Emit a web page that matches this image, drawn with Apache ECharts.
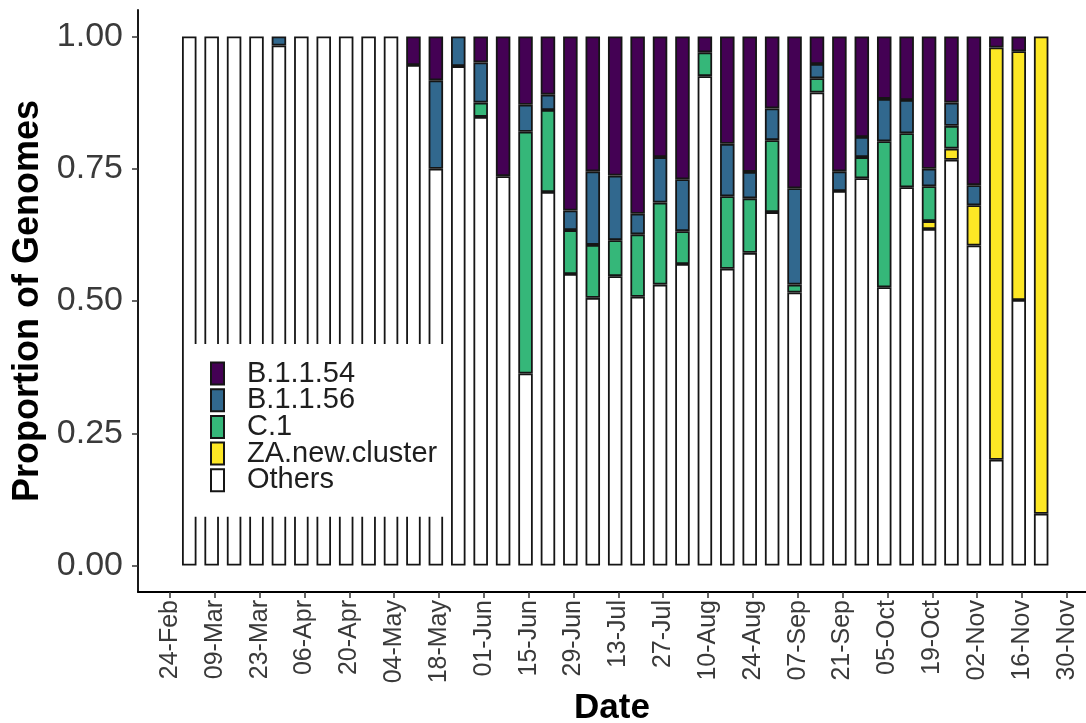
<!DOCTYPE html>
<html>
<head>
<meta charset="utf-8">
<script src="https://cdn.jsdelivr.net/npm/echarts@6/dist/echarts.min.js"></script>
<style>
html,body{margin:0;padding:0;background:#fff;}
#chart{width:1086px;height:723px;}
</style>
</head>
<body>
<div id="chart"></div>
<script>
// Weekly sample dates (bar positions)
const weekDates = ['2020-03-01','2020-03-08','2020-03-15','2020-03-22','2020-03-29',
  '2020-04-05','2020-04-12','2020-04-19','2020-04-26',
  '2020-05-03','2020-05-10','2020-05-17','2020-05-24','2020-05-31',
  '2020-06-07','2020-06-14','2020-06-21','2020-06-28',
  '2020-07-05','2020-07-12','2020-07-19','2020-07-26',
  '2020-08-02','2020-08-09','2020-08-16','2020-08-23','2020-08-30',
  '2020-09-06','2020-09-13','2020-09-20','2020-09-27',
  '2020-10-04','2020-10-11','2020-10-18','2020-10-25',
  '2020-11-01','2020-11-08','2020-11-15','2020-11-22'];

// Tick dates and labels
const tickDates = ['2020-02-24','2020-03-09','2020-03-23','2020-04-06','2020-04-20','2020-05-04',
  '2020-05-18','2020-06-01','2020-06-15','2020-06-29','2020-07-13','2020-07-27','2020-08-10',
  '2020-08-24','2020-09-07','2020-09-21','2020-10-05','2020-10-19','2020-11-02','2020-11-16','2020-11-30'];
const tickLabels = ['24-Feb','09-Mar','23-Mar','06-Apr','20-Apr','04-May','18-May','01-Jun','15-Jun',
  '29-Jun','13-Jul','27-Jul','10-Aug','24-Aug','07-Sep','21-Sep','05-Oct','19-Oct','02-Nov','16-Nov','30-Nov'];
const yTicks = [0, 0.25, 0.5, 0.75, 1.0];

// Proportions per week (null = absent)
const others = [1,1,1,1,0.983,1,1,1,1,1,0.946,0.750,0.944,0.848,0.736,0.363,0.706,0.551,0.506,0.547,
  0.508,0.531,0.570,0.925,0.561,0.591,0.668,0.516,0.894,0.708,0.732,0.526,0.715,0.636,0.767,0.605,0.200,0.502,0.098];
const zaNew = [null,null,null,null,null,null,null,null,null,null,null,null,null,null,null,null,null,null,null,null,
  null,null,null,null,null,null,null,null,null,null,null,null,null,0.015,0.021,0.076,0.779,0.470,0.902];
const c1 = [null,null,null,null,null,null,null,null,null,null,null,null,null,0.027,null,0.457,0.155,0.083,0.100,0.068,
  0.118,0.155,0.062,0.045,0.137,0.103,0.136,0.015,0.027,null,0.040,0.276,0.102,0.066,0.043,null,null,null,null];
const b1156 = [null,null,null,null,0.017,null,null,null,null,null,null,0.167,0.056,0.076,null,0.051,0.029,0.037,0.139,0.122,
  0.039,0.086,0.098,null,0.099,0.050,0.060,0.182,0.027,0.037,0.038,0.080,0.063,0.033,0.044,0.038,null,null,null];
const b1154 = [null,null,null,null,null,null,null,null,null,null,0.054,0.083,null,0.049,0.264,0.129,0.110,0.329,0.255,0.263,
  0.335,0.228,0.270,0.030,0.203,0.256,0.136,0.287,0.052,0.255,0.190,0.118,0.120,0.250,0.125,0.281,0.021,0.028,null];

const seriesNames = ['Others','ZA.new.cluster','C.1','B.1.1.56','B.1.1.54'];
const seriesColors = ['#FFFFFF','#FDE725','#35B779','#31688E','#440154'];
const seriesValues = [others, zaNew, c1, b1156, b1154];

const DAY = 86400000;
const origin = Date.parse('2020-02-24');
const toDay = d => Math.round((Date.parse(d) - origin) / DAY);
const tickX = tickDates.map(toDay);
const labelMap = {};
tickX.forEach((v, i) => { labelMap[v] = tickLabels[i]; });

// Layout of the date axis
const W = 1086, GL = 138, GR = 0, GT = 10, GB = 131;
const XMIN = -10, XMAX = 286;
const pxPerDay = (W - GL - GR) / (XMAX - XMIN);
const firstDay = toDay(weekDates[0]);
const barGridLeft = GL + (firstDay - 3.5 - XMIN) * pxPerDay;
const barGridWidth = weekDates.length * 7 * pxPerDay;
const barGridRight = W - barGridLeft - barGridWidth;

const FONT = 'Liberation Sans, Arial, sans-serif';
const chart = echarts.init(document.getElementById('chart'), null, {renderer: 'canvas'});

const series = seriesNames.map((name, s) => ({
  name: name,
  type: 'bar',
  stack: 'total',
  xAxisIndex: 1, yAxisIndex: 1,
  barWidth: 14.5,
  itemStyle: {color: seriesColors[s], borderColor: '#151515', borderWidth: 1.8},
  emphasis: {disabled: true},
  data: seriesValues[s].map(v => v == null ? '-' : v)
}));

chart.setOption({
  animation: false,
  backgroundColor: '#fff',
  grid: [
    {left: GL, right: GR, top: GT, bottom: GB, containLabel: false, outerBoundsMode: 'none'},
    {left: barGridLeft, right: barGridRight, top: GT, bottom: GB, containLabel: false, outerBoundsMode: 'none'}
  ],
  xAxis: [{
    type: 'value', gridIndex: 0, min: XMIN, max: XMAX,
    name: 'Date', nameLocation: 'middle', nameGap: 98,
    nameTextStyle: {fontFamily: FONT, fontSize: 35, fontWeight: 'bold', color: '#000'},
    axisLine: {show: true, onZero: false, lineStyle: {color: '#000', width: 1.8}},
    axisTick: {show: true, length: 6, customValues: tickX, lineStyle: {color: '#333', width: 1.5}},
    axisLabel: {rotate: 90, margin: 8, customValues: tickX, fontFamily: FONT, fontSize: 25, color: '#3a3a3a',
      formatter: v => labelMap[Math.round(v)] || ''},
    splitLine: {show: false}
  }, {
    type: 'category', gridIndex: 1, data: weekDates, boundaryGap: true, show: false
  }],
  yAxis: [{
    type: 'value', gridIndex: 0, min: -0.05, max: 1.05,
    name: 'Proportion of Genomes', nameLocation: 'middle', nameGap: 91, nameRotate: 90,
    nameTextStyle: {fontFamily: FONT, fontSize: 36, fontWeight: 'bold', color: '#000'},
    axisLine: {show: true, onZero: false, lineStyle: {color: '#000', width: 1.8}},
    axisTick: {show: true, length: 6, customValues: yTicks, lineStyle: {color: '#333', width: 1.5}},
    axisLabel: {customValues: yTicks, margin: 15, fontFamily: FONT, fontSize: 34, color: '#3a3a3a',
      formatter: v => v.toFixed(2)},
    splitLine: {show: false}
  }, {
    type: 'value', gridIndex: 1, min: -0.05, max: 1.05, show: false, splitLine: {show: false}
  }],
  legend: {
    orient: 'vertical', left: 184, top: 344,
    data: ['B.1.1.54','B.1.1.56','C.1','ZA.new.cluster','Others'],
    icon: 'rect', itemWidth: 13, itemHeight: 22, itemGap: -2.3,
    backgroundColor: '#fff', padding: [15, 11, 22, 26],
    textStyle: {fontFamily: FONT, fontSize: 29, color: '#1e1e1e', lineHeight: 26.75, padding: [0,0,0,18]},
    selectedMode: false
  },
  series: series
});
</script>
</body>
</html>
